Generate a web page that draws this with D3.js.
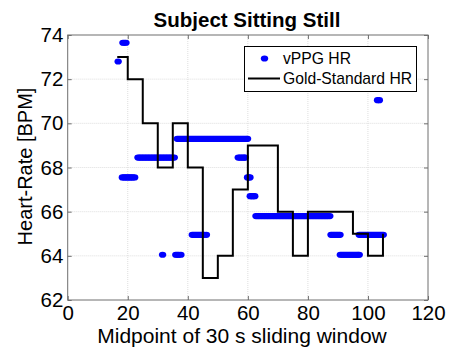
<!DOCTYPE html>
<html>
<head>
<meta charset="utf-8">
<script src="https://cdn.jsdelivr.net/npm/d3@7"></script>
<style>
body { margin: 0; background: #fff; }
text { font-family: "Liberation Sans", Arial, Helvetica, sans-serif; }
</style>
</head>
<body>
<svg id="chart"></svg>
<script>
var width = 449;
var height = 348;

// gold standard HR, step changes (time in s, BPM)
var goldTime = [16.5, 20, 25, 30, 35, 40, 45, 50, 55, 60, 70, 75, 80, 95, 100, 105];
var goldHR   = [73,   72, 70, 68, 70, 68, 63, 64, 67, 69, 66, 64, 66, 65, 64,  65];

// vPPG HR estimates [time, BPM]
var vppg = [
  [16.8, 72.8],
  [18.4, 73.65], [18.9, 73.65], [19.4, 73.65],
  [18.2, 67.55], [18.7, 67.55], [19.2, 67.55], [19.7, 67.55], [20.2, 67.55], [20.7, 67.55], [21.2, 67.55], [21.7, 67.55], [22.3, 67.55],
  [23.4, 68.45], [23.9, 68.45], [24.4, 68.45], [24.9, 68.45], [25.4, 68.45], [25.9, 68.45], [26.4, 68.45], [26.9, 68.45], [27.4, 68.45],
  [27.9, 68.45], [28.4, 68.45], [28.9, 68.45], [29.4, 68.45], [29.9, 68.45], [30.4, 68.45], [30.9, 68.45], [31.4, 68.45], [31.9, 68.45],
  [32.4, 68.45], [32.9, 68.45], [33.4, 68.45], [33.9, 68.45], [34.4, 68.45], [34.9, 68.45], [35.5, 68.45],
  [31.6, 64.05],
  [36.0, 64.05], [36.5, 64.05], [37.0, 64.05], [37.7, 64.05],
  [36.5, 69.3], [37.0, 69.3], [37.5, 69.3], [38.0, 69.3], [38.5, 69.3], [39.0, 69.3], [39.5, 69.3], [40.0, 69.3], [40.5, 69.3],
  [41.0, 69.3], [41.5, 69.3], [42.0, 69.3], [42.5, 69.3], [43.0, 69.3], [43.5, 69.3], [44.0, 69.3], [44.5, 69.3], [45.0, 69.3],
  [45.5, 69.3], [46.0, 69.3], [46.5, 69.3], [47.0, 69.3], [47.5, 69.3], [48.0, 69.3], [48.5, 69.3], [49.0, 69.3], [49.5, 69.3],
  [50.0, 69.3], [50.5, 69.3], [51.0, 69.3], [51.5, 69.3], [52.0, 69.3], [52.5, 69.3], [53.0, 69.3], [53.5, 69.3], [54.0, 69.3],
  [54.5, 69.3], [55.0, 69.3], [55.5, 69.3], [56.0, 69.3], [56.5, 69.3], [57.0, 69.3], [57.5, 69.3], [58.0, 69.3], [58.5, 69.3],
  [59.0, 69.3], [59.5, 69.3], [59.9, 69.3],
  [41.5, 64.95], [42.0, 64.95], [42.5, 64.95], [43.0, 64.95], [43.5, 64.95], [44.0, 64.95], [44.5, 64.95], [45.0, 64.95], [45.5, 64.95], [46.2, 64.95],
  [56.8, 68.45], [57.3, 68.45], [57.8, 68.45], [58.3, 68.45], [58.8, 68.45], [59.1, 68.45],
  [59.9, 67.55], [60.3, 67.55], [60.7, 67.55],
  [60.8, 66.7], [61.3, 66.7], [61.8, 66.7], [62.3, 66.7],
  [62.7, 65.8], [63.2, 65.8], [63.7, 65.8], [64.2, 65.8], [64.7, 65.8], [65.2, 65.8], [65.7, 65.8], [66.2, 65.8], [66.7, 65.8],
  [67.2, 65.8], [67.7, 65.8], [68.2, 65.8], [68.7, 65.8], [69.2, 65.8], [69.7, 65.8], [70.2, 65.8], [70.7, 65.8], [71.2, 65.8],
  [71.7, 65.8], [72.2, 65.8], [72.7, 65.8], [73.2, 65.8], [73.7, 65.8], [74.2, 65.8], [74.7, 65.8], [75.2, 65.8], [75.7, 65.8],
  [76.2, 65.8], [76.7, 65.8], [77.2, 65.8], [77.7, 65.8], [78.2, 65.8], [78.7, 65.8], [79.2, 65.8], [79.7, 65.8], [80.2, 65.8],
  [80.7, 65.8], [81.2, 65.8], [81.7, 65.8], [82.2, 65.8], [82.7, 65.8], [83.2, 65.8], [83.7, 65.8], [84.2, 65.8], [84.7, 65.8],
  [85.2, 65.8], [85.7, 65.8], [86.2, 65.8], [86.7, 65.8], [87.3, 65.8],
  [87.7, 64.95], [88.2, 64.95], [88.7, 64.95], [89.2, 64.95], [89.7, 64.95], [90.2, 64.95], [90.7, 64.95],
  [90.8, 64.05], [91.3, 64.05], [91.8, 64.05], [92.3, 64.05], [92.8, 64.05], [93.3, 64.05], [93.8, 64.05], [94.3, 64.05],
  [94.8, 64.05], [95.3, 64.05], [95.8, 64.05], [96.3, 64.05], [96.7, 64.05], [97.1, 64.05],
  [97.1, 64.95], [97.6, 64.95], [98.1, 64.95], [98.6, 64.95], [99.1, 64.95], [99.6, 64.95], [100.1, 64.95], [100.6, 64.95],
  [101.1, 64.95], [101.6, 64.95], [102.1, 64.95], [102.6, 64.95], [103.1, 64.95], [103.6, 64.95], [104.1, 64.95], [104.6, 64.95], [105.1, 64.95],
  [103.2, 71.05], [103.8, 71.05]
];

var xTicks = [0, 20, 40, 60, 80, 100, 120];
var yTicks = [62, 64, 66, 68, 70, 72, 74];

// plot box in pixels (note: "top" is reserved on window, so use other names)
var pLeft = 67.7, pRight = 428, pTop = 35, pBottom = 300;

var x = d3.scaleLinear().domain([0, 120]).range([pLeft, pRight]);
var y = d3.scaleLinear().domain([62, 74]).range([pBottom, pTop]);

var svg = d3.select("#chart")
  .attr("width", width)
  .attr("height", height)
  .style("background", "#fff");

// grid
svg.append("g").selectAll("line").data(xTicks.slice(1, -1)).enter().append("line")
  .attr("x1", d => x(d)).attr("x2", d => x(d))
  .attr("y1", pTop).attr("y2", pBottom)
  .attr("stroke", "#d6d6d6").attr("stroke-width", 0.8).attr("stroke-dasharray", "1,1");
svg.append("g").selectAll("line").data(yTicks.slice(1, -1)).enter().append("line")
  .attr("y1", d => y(d)).attr("y2", d => y(d))
  .attr("x1", pLeft).attr("x2", pRight)
  .attr("stroke", "#d6d6d6").attr("stroke-width", 0.8).attr("stroke-dasharray", "1,1");

// vPPG dots (slightly wide, like the original)
svg.append("g").selectAll("ellipse").data(vppg).enter().append("ellipse")
  .attr("cx", d => x(d[0]))
  .attr("cy", d => y(d[1]))
  .attr("rx", 3.7)
  .attr("ry", 3.1)
  .attr("fill", "#0000ff");

// gold standard: hold each value until the next change time
var goldData = goldTime.map((t, i) => [t, goldHR[i]]);
var stepPts = [];
goldData.forEach(function (d, i) {
  if (i < goldData.length - 1) {
    stepPts.push([d[0], d[1]]);
    stepPts.push([goldData[i + 1][0], d[1]]);
  } else {
    stepPts.push([d[0], d[1]]);
  }
});
svg.append("path")
  .datum(stepPts)
  .attr("d", d3.line().x(d => x(d[0])).y(d => y(d[1])))
  .attr("fill", "none")
  .attr("stroke", "#000")
  .attr("stroke-width", 2);

// axes box
svg.append("rect")
  .attr("x", pLeft).attr("y", pTop)
  .attr("width", pRight - pLeft).attr("height", pBottom - pTop)
  .attr("fill", "none").attr("stroke", "#6e6e6e").attr("stroke-width", 1);

var gx = svg.append("g").attr("transform", "translate(0," + pBottom + ")")
  .call(d3.axisBottom(x).tickValues(xTicks).tickSize(-4).tickFormat(d3.format("d")));
var gx2 = svg.append("g").attr("transform", "translate(0," + pTop + ")")
  .call(d3.axisTop(x).tickValues(xTicks).tickSize(-4).tickFormat(""));
var gy = svg.append("g").attr("transform", "translate(" + pLeft + ",0)")
  .call(d3.axisLeft(y).tickValues(yTicks).tickSize(-4));
var gy2 = svg.append("g").attr("transform", "translate(" + pRight + ",0)")
  .call(d3.axisRight(y).tickValues(yTicks).tickSize(-4).tickFormat(""));

[gx, gx2, gy, gy2].forEach(function (g) {
  g.select(".domain").remove();
  g.selectAll(".tick line").attr("stroke", "#6e6e6e");
  g.selectAll(".tick text").attr("fill", "#000").style("font-size", "20.5px")
    .style("font-family", "'Liberation Sans', Arial, sans-serif");
});
gx.selectAll(".tick text").attr("y", 5);
gy.selectAll(".tick text").attr("x", -4.4);

// title and labels
svg.append("text")
  .attr("x", 247).attr("y", 27)
  .attr("text-anchor", "middle")
  .style("font-size", "20.5px").style("font-weight", "bold")
  .text("Subject Sitting Still");

svg.append("text")
  .attr("x", 242).attr("y", 343)
  .attr("text-anchor", "middle")
  .style("font-size", "21px")
  .text("Midpoint of 30 s sliding window");

svg.append("text")
  .attr("transform", "translate(31.5,166.5)rotate(-90)")
  .attr("text-anchor", "middle")
  .style("font-size", "20px")
  .text("Heart-Rate [BPM]");

// legend
var lg = svg.append("g");
lg.append("rect")
  .attr("x", 244.5).attr("y", 46.5).attr("width", 172).attr("height", 45)
  .attr("fill", "#fff").attr("stroke", "#000").attr("stroke-width", 1);
lg.append("ellipse").attr("cx", 264.5).attr("cy", 58.5).attr("rx", 3.7).attr("ry", 3.1).attr("fill", "#0000ff");
lg.append("text").attr("x", 283).attr("y", 64).style("font-size", "15.7px").text("vPPG HR");
lg.append("line").attr("x1", 248).attr("x2", 280).attr("y1", 78.5).attr("y2", 78.5)
  .attr("stroke", "#000").attr("stroke-width", 2);
lg.append("text").attr("x", 283).attr("y", 84).style("font-size", "15.7px").text("Gold-Standard HR");
</script>
</body>
</html>
